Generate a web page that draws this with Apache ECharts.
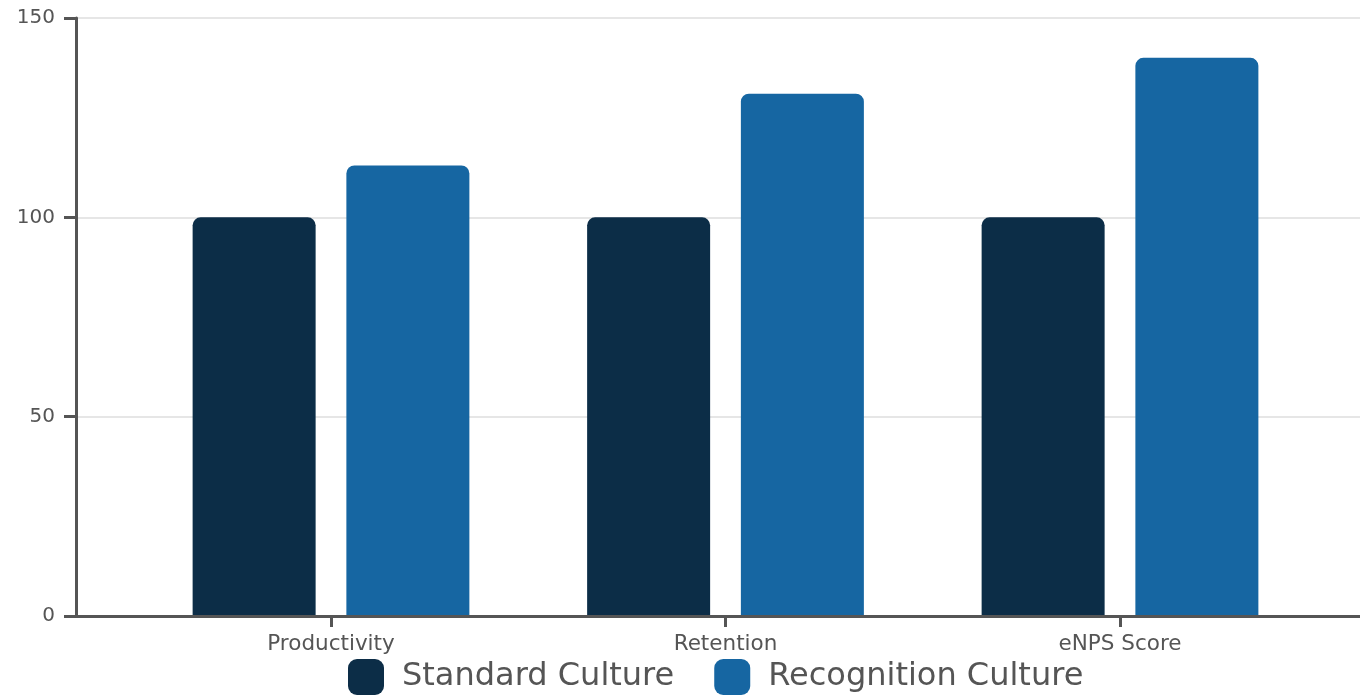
<!DOCTYPE html>
<html><head><meta charset="utf-8">
<script src="https://cdn.jsdelivr.net/npm/echarts@6/dist/echarts.min.js"></script>
<style>html,body{margin:0;padding:0;background:#fff}#c{width:1360px;height:698px}</style>
</head><body><div id="c"></div>
<script>
const categories = ['Productivity', 'Retention', 'eNPS Score'];
const standardCulture = [100, 100, 100];
const recognitionCulture = [113, 131, 140];
const yTicks = { min: 0, max: 150, interval: 50 };

const FONT = 'DejaVu Sans';
const chart = echarts.init(document.getElementById('c'));
chart.setOption({
  backgroundColor: '#fff',
  animation: false,
  textStyle: { fontFamily: FONT },
  grid: [
    { left: 76, right: 0, top: 18, bottom: 82 },
    { left: 133.75, right: 42.75, top: 18, bottom: 82 }
  ],
  legend: {
    top: 654, left: 343,
    itemWidth: 36, itemHeight: 36, itemGap: 40,
    icon: 'roundRect',
    textStyle: { fontSize: 32, color: '#555', fontFamily: FONT, padding: [3, 0, 0, 13] },
    data: ['Standard Culture', 'Recognition Culture']
  },
  xAxis: [
    { type: 'category', gridIndex: 0, data: categories, z: 5,
      axisLine: { lineStyle: { color: '#555', width: 3 } },
      axisTick: { show: false }, axisLabel: { show: false }, splitLine: { show: false } },
    { type: 'category', gridIndex: 1, data: categories, z: 5,
      axisLine: { show: false },
      axisTick: { show: true, alignWithLabel: true, length: 11, lineStyle: { color: '#555', width: 3 } },
      axisLabel: { color: '#555', fontSize: 21.5, margin: 17, fontFamily: FONT } }
  ],
  yAxis: [
    { type: 'value', gridIndex: 0, min: yTicks.min, max: yTicks.max, interval: yTicks.interval,
      axisLine: { show: true, lineStyle: { color: '#555', width: 3 } },
      axisTick: { show: true, length: 12, lineStyle: { color: '#555', width: 3 } },
      axisLabel: { color: '#555', fontSize: 20, margin: 21, fontFamily: FONT },
      splitLine: { lineStyle: { color: '#dedede', width: 1.5 } } },
    { type: 'value', gridIndex: 1, min: yTicks.min, max: yTicks.max, interval: yTicks.interval, show: false,
      splitLine: { show: false } }
  ],
  series: [
    { name: 'Standard Culture', type: 'bar', xAxisIndex: 1, yAxisIndex: 1, data: standardCulture,
      barWidth: 123, barGap: '25%',
      itemStyle: { color: '#0c2d47', borderRadius: [8, 8, 0, 0] } },
    { name: 'Recognition Culture', type: 'bar', xAxisIndex: 1, yAxisIndex: 1, data: recognitionCulture,
      barWidth: 123,
      itemStyle: { color: '#1666a2', borderRadius: [8, 8, 0, 0] } }
  ]
});
</script></body></html>
